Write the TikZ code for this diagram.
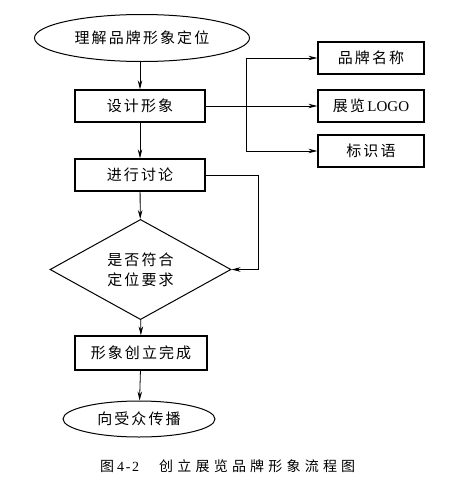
\documentclass[tikz,border=0pt]{standalone}
\usepackage{fontspec}
\setmainfont{Liberation Serif}
\newfontfamily\cjk{Noto Sans CJK SC}[LetterSpace=14]
\newfontfamily\cjkcap{Noto Sans CJK SC}[LetterSpace=30]
\newfontfamily\numcap{Liberation Serif}[LetterSpace=12]
\usetikzlibrary{shapes.geometric,arrows.meta}
\tikzset{
  boxnode/.style={draw,line width=1.3pt,minimum width=130pt,minimum height=32pt,inner sep=0pt,font=\fontsize{15}{17}\selectfont\cjk},
  sidebox/.style={draw,line width=1.3pt,minimum width=106pt,minimum height=32pt,inner sep=0pt,font=\fontsize{15}{17}\selectfont},
  ovalnode/.style={draw,ellipse,line width=1pt,inner sep=0pt,font=\fontsize{15}{17}\selectfont\cjk},
  decnode/.style={draw,diamond,line width=1pt,inner sep=0pt,minimum width=181pt,minimum height=93pt,font=\fontsize{15}{20}\selectfont\cjk,align=center},
  conn/.style={line width=0.8pt,-{Stealth[length=9pt,width=4.5pt]}},
  plain/.style={line width=0.8pt}
}
\begin{document}
\begin{tikzpicture}[x=1pt,y=-1pt]
\useasboundingbox (0,0) rectangle (448,496);
\node[ovalnode,minimum width=215pt,minimum height=47pt] (start) at (142,38) {理解品牌形象定位};
\node[boxnode] (design) at (140,106) {设计形象};
\node[boxnode] (discuss) at (140,175) {进行讨论};
\node[decnode] (check) at (140.5,269.5) {是否符合\\定位要求};
\node[boxnode,minimum width=132pt,minimum height=34pt] (done) at (141,353) {形象创立完成};
\node[ovalnode,minimum width=152pt,minimum height=36pt] (spread) at (139,419) {向受众传播};
\node[sidebox] (name) at (371,58) {\cjk 品牌名称};
\node[sidebox] (logo) at (371,106) {{\cjk 展览}\,LOGO};
\node[sidebox] (slogan) at (371,151) {\cjk 标识语};
\coordinate (btop) at (246,58);
\coordinate (bbot) at (246,151);
\coordinate (fb1) at (258,175);
\coordinate (fb2) at (258,269.5);
\draw[conn] (start.south -| design.north) -- (design.north);
\draw[conn] (design) -- (discuss);
\draw[conn] (discuss) -- (check);
\draw[conn] (check) -- (done);
\draw[conn] (done) -- (spread);
\draw[conn] (design.east) -- (logo.west);
\draw[plain] (bbot) -- (btop);
\draw[conn] (btop) -- (name.west);
\draw[conn] (bbot) -- (slogan.west);
\draw[plain] (discuss.east) -- (fb1);
\draw[conn] (fb1) -- (fb2) -- (check.east);
\node[font=\fontsize{14}{16}\selectfont,anchor=west,inner sep=0pt] (cap) at (100,466) {{\cjkcap 图}\hspace{3pt}{\numcap 4-2}\hspace{20pt}{\cjkcap 创立展览品牌形象流程图}};
\end{tikzpicture}
\end{document}
